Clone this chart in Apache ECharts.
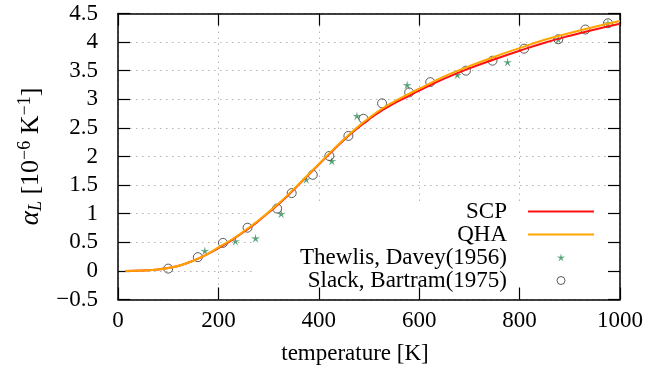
<!DOCTYPE html>
<html>
<head>
<meta charset="utf-8">
<script src="https://cdn.jsdelivr.net/npm/echarts@6/dist/echarts.min.js"></script>
<style>html,body{margin:0;padding:0;background:#fff}#c{width:667px;height:372px}</style>
</head>
<body>
<div id="c"></div>
<script>
// Model curves
const curveT = [15, 50, 75, 100, 125, 150, 175, 200, 225, 250, 275, 300, 325, 350, 375, 400, 425, 450, 475, 500, 525, 550, 575, 600, 650, 700, 750, 800, 850, 900, 950, 1000];
const scpAlpha = [0, 0.005, 0.02, 0.05, 0.10, 0.18, 0.28, 0.40, 0.53, 0.68, 0.84, 1.02, 1.21, 1.42, 1.64, 1.86, 2.08, 2.29, 2.48, 2.65, 2.80, 2.93, 3.04, 3.15, 3.36, 3.54, 3.70, 3.85, 3.99, 4.11, 4.22, 4.32];
const qhaAlpha = [0, 0.005, 0.02, 0.05, 0.10, 0.18, 0.28, 0.41, 0.54, 0.69, 0.85, 1.03, 1.22, 1.43, 1.65, 1.87, 2.09, 2.30, 2.50, 2.675, 2.83, 2.96, 3.075, 3.185, 3.40, 3.58, 3.745, 3.895, 4.04, 4.16, 4.27, 4.37];
// Experiments
const thewlisT = [173, 234, 274, 325, 375, 426, 476, 576, 676, 776, 877, 976];
const thewlisAlpha = [0.35, 0.52, 0.57, 1.00, 1.60, 1.92, 2.71, 3.25, 3.43, 3.65, 4.05, 4.33];
const slackT = [100, 159, 209, 258, 317, 346, 388, 421, 459, 489, 526, 580, 622, 693, 746, 809, 877, 931, 976];
const slackAlpha = [0.04, 0.24, 0.49, 0.755, 1.09, 1.36, 1.68, 2.01, 2.36, 2.66, 2.93, 3.12, 3.30, 3.50, 3.675, 3.885, 4.05, 4.22, 4.33];
const seriesNames = ['SCP', 'QHA', 'Thewlis, Davey(1956)', 'Slack, Bartram(1975)'];

const zip = (a, b) => a.map((v, i) => [v, b[i]]);
const FONT = 'Liberation Serif';
const STAR = 'path://M0 -1 L0.176 -0.243 L0.951 -0.309 L0.285 0.093 L0.588 0.809 L0 0.3 L-0.588 0.809 L-0.285 0.093 L-0.951 -0.309 L-0.176 -0.243 Z';
const LINEICON = 'path://M0 0 L66 0 L66 2 L0 2 Z';
const gridLine = {show: true, lineStyle: {color: '#b4b4b4', width: 1, type: [1.5, 4.5]}};
const axLine = {show: true, onZero: false, lineStyle: {color: '#000', width: 1.5}};
const tick = {show: true, inside: true, length: 12, lineStyle: {color: '#000', width: 1.2}};

const chart = echarts.init(document.getElementById('c'), null, {renderer: 'canvas'});
chart.setOption({
  animation: false,
  backgroundColor: '#fff',
  grid: {left: 118, right: 47, top: 13.5, bottom: 72.5},
  xAxis: [
    {type: 'value', position: 'bottom', min: 0, max: 1000, interval: 200, z: 3,
     axisLine: axLine, axisTick: tick, splitLine: {show: false},
     axisLabel: {margin: 10, color: '#000', fontFamily: FONT, fontSize: 23, formatter: v => String(v)},
     name: 'temperature [K]', nameLocation: 'middle', nameGap: 43,
     nameTextStyle: {color: '#000', fontFamily: FONT, fontSize: 23, padding: [0, 28, 0, 0]}},
    {type: 'value', position: 'top', min: 0, max: 1000, interval: 200, z: 0,
     axisLine: axLine, axisTick: tick, axisLabel: {show: false}, splitLine: gridLine}
  ],
  yAxis: [
    {type: 'value', position: 'left', min: -0.5, max: 4.5, interval: 0.5, z: 0,
     axisLine: axLine, axisTick: tick, splitLine: gridLine,
     axisLabel: {margin: 20, color: '#000', fontFamily: FONT, fontSize: 23,
                 formatter: v => String(v).replace('-', '\u2212')},
     name: '{a|α}{sub|L}{t| [10}{sup|−6}{t| K}{sup|−1}{t|]}',
     nameLocation: 'middle', nameGap: 72, nameRotate: 90,
     nameTextStyle: {rich: {
       a: {fontFamily: FONT, fontSize: 27, fontStyle: 'italic', color: '#000'},
       sub: {fontFamily: FONT, fontSize: 18, fontStyle: 'italic', color: '#000', padding: [11, 0, 0, 0]},
       t: {fontFamily: FONT, fontSize: 26, color: '#000'},
       sup: {fontFamily: FONT, fontSize: 18, color: '#000', padding: [0, 0, 11, 0]}
     }}},
    {type: 'value', position: 'right', min: -0.5, max: 4.5, interval: 0.5, z: 3,
     axisLine: axLine, axisTick: tick, axisLabel: {show: false}, splitLine: {show: false}}
  ],
  graphic: [{type: 'rect', z: 1, shape: {x: 255, y: 201, width: 364, height: 97.5},
             style: {fill: '#fff'}, silent: true}],
  legend: {
    orient: 'vertical', align: 'right', right: 73, top: 200, padding: 0, itemGap: 0,
    itemWidth: 66, itemHeight: 8,
    textStyle: {fontFamily: FONT, fontSize: 23, color: '#000', lineHeight: 21.8, padding: [0, 16, 0, 0]},
    data: [
      {name: seriesNames[0], icon: LINEICON, itemStyle: {color: '#ff1010'}},
      {name: seriesNames[1], icon: LINEICON, itemStyle: {color: '#ffa500'}},
      {name: seriesNames[2]},
      {name: seriesNames[3], itemStyle: {color: 'rgba(0,0,0,0)', borderColor: '#333', borderWidth: 1}}
    ]
  },
  series: [
    {name: seriesNames[0], type: 'line', data: zip(curveT, scpAlpha), symbol: 'none', smooth: true,
     lineStyle: {color: '#ff1010', width: 2}, itemStyle: {color: '#ff1010'}},
    {name: seriesNames[1], type: 'line', data: zip(curveT, qhaAlpha), symbol: 'none', smooth: true,
     lineStyle: {color: '#ffa500', width: 2}, itemStyle: {color: '#ffa500'}},
    {name: seriesNames[2], type: 'scatter', data: zip(thewlisT, thewlisAlpha), symbol: STAR, symbolSize: 9,
     itemStyle: {color: '#2e8b57'}},
    {name: seriesNames[3], type: 'scatter', data: zip(slackT, slackAlpha), symbol: 'circle', symbolSize: 9,
     itemStyle: {color: 'rgba(0,0,0,0)', borderColor: '#333', borderWidth: 1}}
  ]
});
</script>
</body>
</html>
